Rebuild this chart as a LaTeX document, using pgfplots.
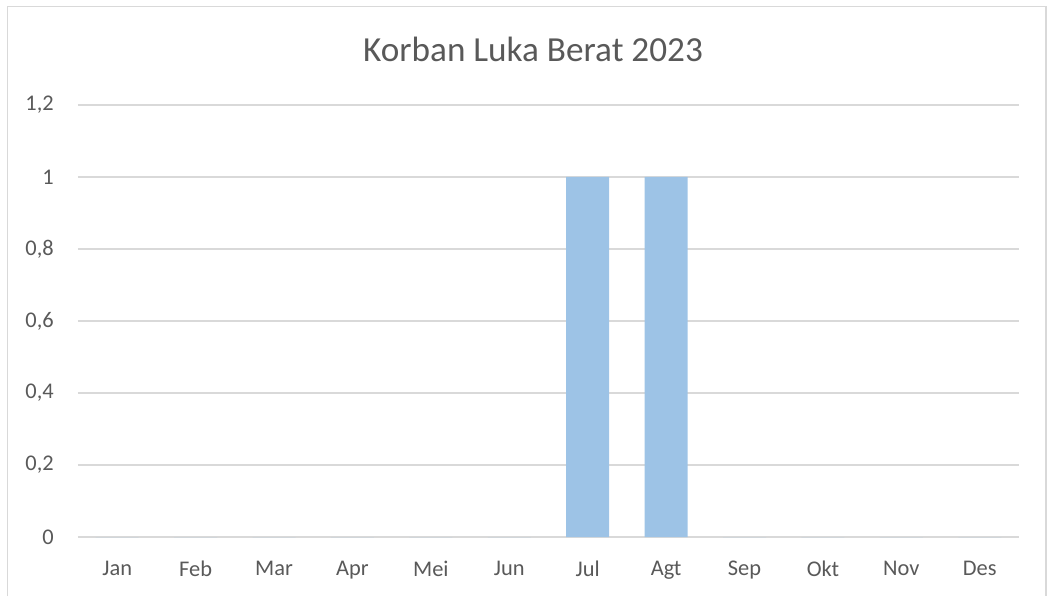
\documentclass[border=0pt]{standalone}
\usepackage{pgfplots}
\pgfplotsset{compat=1.18}
\usepackage{fontspec}
\setmainfont{Carlito}
\definecolor{barblue}{HTML}{9DC3E6}
\definecolor{gridgray}{HTML}{D9D9D9}
\definecolor{txtgray}{HTML}{595959}
\begin{document}
\begin{tikzpicture}[x=0.75pt,y=0.75pt]
\path[use as bounding box] (0,0) rectangle (1048,596);
\draw[gridgray,line width=1.2pt] (7.5,0) -- (7.5,589.5) -- (1046,589.5) -- (1046,0);
\node[text=txtgray,font=\fontsize{26.4}{31}\selectfont] at (533,547) {Korban Luka Berat 2023};
\begin{axis}[
  at={(78*0.75pt,59*0.75pt)}, anchor=south west,
  scale only axis, width=705.75pt, height=324pt,
  ybar, bar width=32.25pt,
  xmin=-0.5, xmax=11.5, ymin=0, ymax=1.2,
  xtick={0,...,11},
  xticklabels={Jan,Feb,Mar,Apr,Mei,Jun,Jul,Agt,Sep,Okt,Nov,Des},
  ytick={0,0.2,0.4,0.6,0.8,1,1.2},
  /pgf/number format/use comma,
  /pgf/number format/fixed,
  /pgf/number format/precision=1,
  /pgf/number format/assume math mode=true,
  ymajorgrids, major grid style={gridgray,line width=1pt},
  axis line style={draw=none},
  major tick length=0pt,
  tick label style={text=txtgray,font=\fontsize{16.8}{20}\selectfont,inner sep=0pt},
  yticklabel style={anchor=east,xshift=-18pt},
  xticklabel style={anchor=north,yshift=-18pt},
  clip=false,
]
\addplot[fill=barblue,draw=none] coordinates {
(0,0) (1,0) (2,0) (3,0) (4,0) (5,0) (6,1) (7,1) (8,0) (9,0) (10,0) (11,0)};
\end{axis}
\end{tikzpicture}
\end{document}
